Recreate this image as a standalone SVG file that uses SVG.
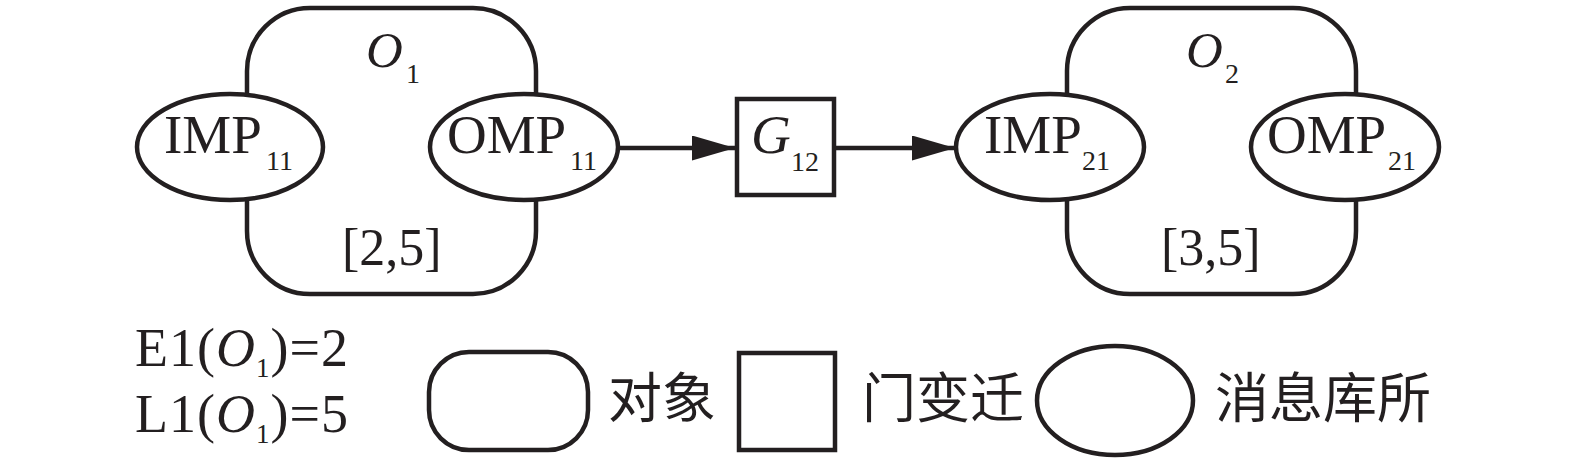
<svg xmlns="http://www.w3.org/2000/svg" width="1575" height="462" viewBox="0 0 1575 462">
<style>
.s{fill:none;stroke:#231f20;stroke-width:4.5}
.f{fill:#ffffff;stroke:#231f20;stroke-width:4.5}
.t{font-family:"Liberation Serif","Times New Roman",serif;fill:#231f20}
.m{font-size:55px}
.sub{font-size:28px}
.i{font-style:italic}
.c{font-family:"Noto Sans CJK SC","Noto Sans CJK JP",sans-serif;font-size:54px;fill:#231f20}
.ln{stroke:#231f20;stroke-width:4.5;fill:none}
</style>
<defs>
<marker id="ah" markerUnits="userSpaceOnUse" viewBox="0 0 43 25" markerWidth="43" markerHeight="25" refX="43" refY="12.5" orient="auto">
<path d="M0,0 L43,12.5 L0,25 z" fill="#231f20"/>
</marker>
</defs>
<rect width="1575" height="462" fill="#ffffff"/>
<g id="O1">
<rect class="f" x="247" y="8" width="289" height="286" rx="63" ry="63"/>
<text class="t i" x="366" y="67" font-size="51">O</text>
<text class="t sub" x="406" y="83">1</text>
<text class="t" x="342" y="265" font-size="52">[2,5]</text>
</g>
<g id="IMP11">
<ellipse class="f" cx="230" cy="147" rx="93" ry="53"/>
<text class="t m" x="164" y="153">IMP</text>
<text class="t sub" x="266" y="170">11</text>
</g>
<g id="OMP11">
<ellipse class="f" cx="524" cy="147" rx="94" ry="53"/>
<text class="t m" x="447" y="153">OMP</text>
<text class="t sub" x="570" y="170">11</text>
</g>
<g id="G12">
<rect class="f" x="737" y="99" width="97" height="96"/>
<text class="t m i" x="751" y="153">G</text>
<text class="t sub" x="791" y="171">12</text>
</g>
<g id="O2">
<rect class="f" x="1067" y="8" width="289" height="286" rx="63" ry="63"/>
<text class="t i" x="1186" y="67" font-size="51">O</text>
<text class="t sub" x="1225" y="83">2</text>
<text class="t" x="1161" y="265" font-size="52">[3,5]</text>
</g>
<g id="IMP21">
<ellipse class="f" cx="1050" cy="147" rx="94" ry="53"/>
<text class="t m" x="984" y="153">IMP</text>
<text class="t sub" x="1082" y="170">21</text>
</g>
<g id="OMP21">
<ellipse class="f" cx="1345" cy="147" rx="94" ry="53"/>
<text class="t m" x="1267" y="153">OMP</text>
<text class="t sub" x="1388" y="170">21</text>
</g>
<g id="connectors">
<line class="ln" x1="619" y1="148" x2="735" y2="148" marker-end="url(#ah)"/>
<line class="ln" x1="836" y1="148" x2="955" y2="148" marker-end="url(#ah)"/>
</g>
<g id="legend">
<text class="t" x="135" y="366" font-size="54" letter-spacing="1">E1(<tspan class="i">O</tspan><tspan font-size="27" dy="11">1</tspan><tspan dy="-11">)=2</tspan></text>
<text class="t" x="135" y="432" font-size="54" letter-spacing="1">L1(<tspan class="i">O</tspan><tspan font-size="27" dy="11">1</tspan><tspan dy="-11">)=5</tspan></text>
<rect class="s" x="429" y="352" width="159" height="98" rx="40" ry="40"/>
<text class="c" x="608" y="418">对象</text>
<rect class="s" x="739" y="353" width="96" height="97"/>
<text class="c" x="862" y="418">门变迁</text>
<ellipse class="s" cx="1115" cy="400.5" rx="78" ry="54.5"/>
<text class="c" x="1215" y="418">消息库所</text>
</g>
</svg>
